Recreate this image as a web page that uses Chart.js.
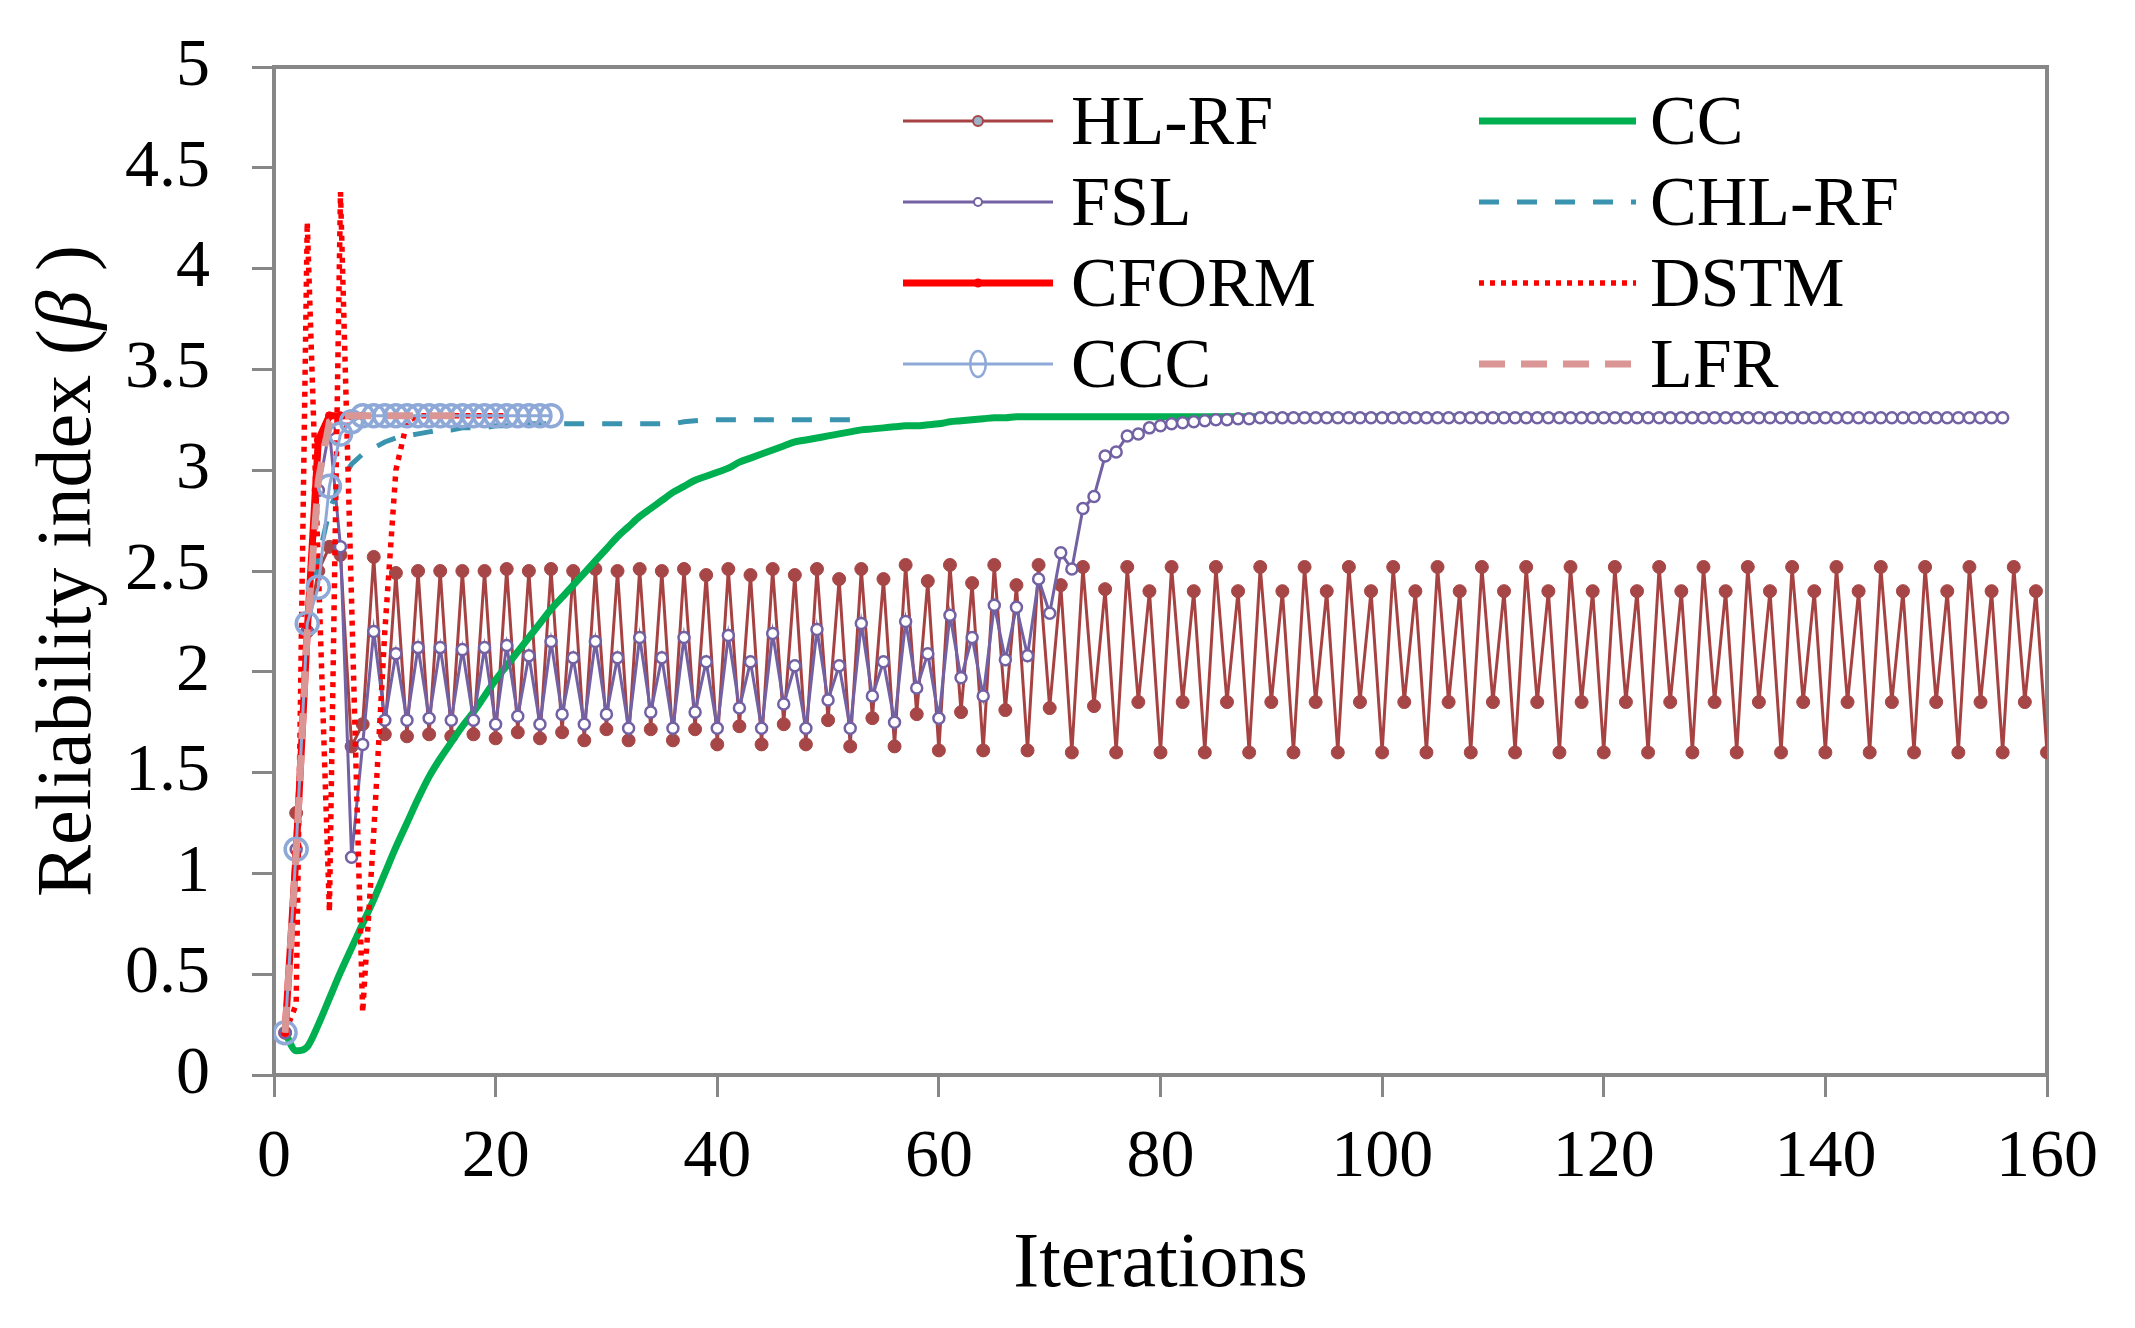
<!DOCTYPE html>
<html>
<head>
<meta charset="utf-8">
<title>Reliability index vs iterations</title>
<script src="https://cdn.jsdelivr.net/npm/chart.js@4.4.1/dist/chart.umd.min.js"></script>
<style>
  html, body { margin: 0; padding: 0; background: #fff; }
  #wrap { width: 2135px; height: 1328px; }
</style>
</head>
<body>
<div id="wrap"><canvas id="betaChart"></canvas></div>
<script>
// every series starts at iteration 1
const hlrf = [
  0.21, 1.30, 2.20, 2.50, 2.62, 2.58, 1.63, 1.74, 2.57, 1.69,
  2.49, 1.68, 2.50, 1.69, 2.50, 1.68, 2.50, 1.69, 2.50, 1.67,
  2.51, 1.70, 2.50, 1.67, 2.51, 1.70, 2.50, 1.66, 2.51, 1.715,
  2.50, 1.66, 2.51, 1.715, 2.50, 1.66, 2.51, 1.715, 2.48, 1.64,
  2.51, 1.73, 2.48, 1.64, 2.51, 1.74, 2.48, 1.64, 2.51, 1.76,
  2.46, 1.63, 2.51, 1.77, 2.46, 1.63, 2.53, 1.79, 2.45, 1.61,
  2.53, 1.80, 2.44, 1.61, 2.53, 1.81, 2.43, 1.61, 2.53, 1.82,
  2.43, 1.60, 2.52, 1.83, 2.41, 1.60, 2.52, 1.85, 2.40,
  1.60, 2.52, 1.85, 2.40, 1.60, 2.52, 1.85, 2.40, 1.60, 2.52, 1.85, 2.40, 1.60, 2.52, 1.85, 2.40,
  1.60, 2.52, 1.85, 2.40, 1.60, 2.52, 1.85, 2.40, 1.60, 2.52, 1.85, 2.40, 1.60, 2.52, 1.85, 2.40,
  1.60, 2.52, 1.85, 2.40, 1.60, 2.52, 1.85, 2.40, 1.60, 2.52, 1.85, 2.40, 1.60, 2.52, 1.85, 2.40,
  1.60, 2.52, 1.85, 2.40, 1.60, 2.52, 1.85, 2.40, 1.60, 2.52, 1.85, 2.40, 1.60, 2.52, 1.85, 2.40,
  1.60, 2.52, 1.85, 2.40, 1.60, 2.52, 1.85, 2.40, 1.60, 2.52, 1.85, 2.40, 1.60, 2.52, 1.85, 2.40,
  1.60
];

const cc = [
  0.21, 0.12, 0.14, 0.25, 0.38, 0.51, 0.63, 0.75, 0.87, 1.00,
  1.13, 1.25, 1.37, 1.48, 1.57, 1.65, 1.73, 1.80, 1.88, 1.96,
  2.03, 2.10, 2.17, 2.24, 2.31, 2.37, 2.43, 2.49, 2.55, 2.61,
  2.67, 2.72, 2.77, 2.81, 2.85, 2.89, 2.92, 2.95, 2.97, 2.99,
  3.01, 3.04, 3.06, 3.08, 3.10, 3.12, 3.14, 3.15, 3.16, 3.17,
  3.18, 3.19, 3.20, 3.205, 3.21, 3.215, 3.22, 3.22, 3.225, 3.23,
  3.24, 3.245, 3.25, 3.255, 3.26, 3.26, 3.265, 3.265, 3.265, 3.265,
  3.265, 3.265, 3.265, 3.265, 3.265, 3.265, 3.265, 3.265, 3.265, 3.265,
  3.265, 3.265, 3.265, 3.265, 3.265, 3.265, 3.265, 3.265, 3.265, 3.265,
  3.265, 3.265, 3.265, 3.265, 3.265, 3.265, 3.265, 3.265, 3.265, 3.265,
  3.265, 3.265, 3.265, 3.265, 3.265, 3.265, 3.265, 3.265, 3.265, 3.265,
  3.265, 3.265, 3.265, 3.265, 3.265, 3.265, 3.265, 3.265, 3.265, 3.265,
  3.265, 3.265, 3.265, 3.265, 3.265, 3.265, 3.265, 3.265, 3.265, 3.265,
  3.265, 3.265, 3.265, 3.265, 3.265, 3.265, 3.265, 3.265, 3.265, 3.265
];

const fsl = [
  0.21, 1.12, 2.20, 2.90, 3.20, 2.62, 1.08, 1.64, 2.20, 1.76,
  2.09, 1.76, 2.12, 1.77, 2.12, 1.76, 2.11, 1.76, 2.12, 1.74,
  2.13, 1.78, 2.08, 1.74, 2.15, 1.79, 2.07, 1.74, 2.15, 1.79,
  2.07, 1.72, 2.17, 1.80, 2.07, 1.72, 2.17, 1.80, 2.05, 1.72,
  2.18, 1.82, 2.05, 1.72, 2.19, 1.84, 2.03, 1.72, 2.21, 1.86,
  2.03, 1.72, 2.24, 1.88, 2.05, 1.75, 2.25, 1.92, 2.09, 1.77,
  2.28, 1.97, 2.17, 1.88, 2.33, 2.06, 2.32, 2.08, 2.46, 2.29,
  2.59, 2.51, 2.81, 2.87, 3.07, 3.09, 3.17, 3.18, 3.21, 3.22,
  3.23, 3.235, 3.24, 3.245, 3.25, 3.25, 3.255, 3.255, 3.26, 3.26,
  3.26, 3.26, 3.26, 3.26, 3.26, 3.26, 3.26, 3.26, 3.26, 3.26,
  3.26, 3.26, 3.26, 3.26, 3.26, 3.26, 3.26, 3.26, 3.26, 3.26,
  3.26, 3.26, 3.26, 3.26, 3.26, 3.26, 3.26, 3.26, 3.26, 3.26,
  3.26, 3.26, 3.26, 3.26, 3.26, 3.26, 3.26, 3.26, 3.26, 3.26,
  3.26, 3.26, 3.26, 3.26, 3.26, 3.26, 3.26, 3.26, 3.26, 3.26,
  3.26, 3.26, 3.26, 3.26, 3.26, 3.26, 3.26, 3.26, 3.26, 3.26,
  3.26, 3.26, 3.26, 3.26, 3.26, 3.26
];

const chlrf = [
  0.21, 1.12, 2.20, 2.56, 2.80, 2.94, 3.03, 3.08, 3.11, 3.14,
  3.16, 3.17, 3.18, 3.19, 3.20, 3.20, 3.21, 3.21, 3.21, 3.22,
  3.22, 3.22, 3.23, 3.23, 3.23, 3.23, 3.23, 3.23, 3.23, 3.23,
  3.23, 3.23, 3.23, 3.23, 3.23, 3.23, 3.24, 3.245, 3.25, 3.25,
  3.25, 3.25, 3.25, 3.25, 3.25, 3.25, 3.25, 3.25, 3.25, 3.25,
  3.25, 3.25, 3.25
];

const cform = [0.21, 1.10, 2.20, 3.15, 3.27, 3.27, 3.27, 3.27];

const dstm = [
  0.21, 0.35, 4.23, 2.52, 0.81, 4.38, 2.35, 0.31, 1.20, 2.20,
  3.00, 3.24, 3.27, 3.27, 3.27, 3.27, 3.27, 3.27, 3.27, 3.27,
  3.27
];

const ccc = [
  0.21, 1.12, 2.24, 2.42, 2.92, 3.18, 3.24, 3.27, 3.27, 3.27,
  3.27, 3.27, 3.27, 3.27, 3.27, 3.27, 3.27, 3.27, 3.27, 3.27,
  3.27, 3.27, 3.27, 3.27, 3.27
];

const lfr = [
  0.21, 1.10, 2.20, 2.95, 3.24, 3.27, 3.27, 3.27, 3.27, 3.27,
  3.27, 3.27, 3.27, 3.27, 3.27, 3.27, 3.27
];

const xTicksMax = 160;
const yTicksMax = 5;
const legendLeft = ['HL-RF', 'FSL', 'CFORM', 'CCC'];
const legendRight = ['CC', 'CHL-RF', 'DSTM', 'LFR'];

const serif = '"Liberation Serif", "Times New Roman", serif';
const frameGrey = '#878787';

const toPoints = (arr) => arr.map((v, i) => ({ x: i + 1, y: v }));

// Excel draws later series on top, Chart.js draws lower "order" on top
const datasets = [
  { label: 'HL-RF', data: toPoints(hlrf), borderColor: '#A64242', borderWidth: 3,
    pointRadius: 6.5, pointBackgroundColor: '#A64646', pointBorderColor: '#A64646', pointBorderWidth: 1, order: 8 },
  { label: 'CC', data: toPoints(cc), borderColor: '#00B050', borderWidth: 7,
    pointRadius: 0, cubicInterpolationMode: 'monotone', order: 7 },
  { label: 'FSL', data: toPoints(fsl), borderColor: '#7261A3', borderWidth: 3,
    pointRadius: 5.5, pointBackgroundColor: '#ffffff', pointBorderColor: '#7261A3', pointBorderWidth: 2.5, order: 6 },
  { label: 'CHL-RF', data: toPoints(chlrf), borderColor: '#3A94AF', borderWidth: 5,
    borderDash: [20, 18], pointRadius: 0, order: 5 },
  { label: 'CFORM', data: toPoints(cform), borderColor: '#FF0000', borderWidth: 7,
    pointRadius: 4, pointBackgroundColor: '#FF0000', pointBorderColor: '#FF0000', pointBorderWidth: 1, order: 4 },
  { label: 'DSTM', data: toPoints(dstm), borderColor: '#FF0000', borderWidth: 5.5,
    borderDash: [5, 6], pointRadius: 0, order: 3 },
  { label: 'CCC', data: toPoints(ccc), borderColor: '#8EA9D8', borderWidth: 3,
    pointRadius: 11, pointBackgroundColor: 'rgba(255,255,255,0)', pointBorderColor: '#8EA9D8', pointBorderWidth: 3.5, order: 2 },
  { label: 'LFR', data: toPoints(lfr), borderColor: '#D99694', borderWidth: 7,
    borderDash: [26, 16], pointRadius: 0, order: 1 },
];
datasets.forEach((d) => { d.fill = false; d.tension = d.tension || 0; });

// frame round the plot area (all four sides)
const framePlugin = {
  id: 'frame',
  beforeDatasetsDraw(chart) {
    const { ctx, chartArea: a } = chart;
    ctx.save();
    ctx.strokeStyle = frameGrey;
    ctx.lineWidth = 4;
    ctx.strokeRect(a.left, a.top, a.right - a.left, a.bottom - a.top);
    ctx.restore();
  }
};

// y title with an italic beta
const yTitlePlugin = {
  id: 'yTitle',
  afterDraw(chart) {
    const { ctx, chartArea: a } = chart;
    const parts = [
      { t: 'Reliability index (', f: '78px ' + serif },
      { t: 'β', f: 'italic 78px ' + serif },
      { t: ' )', f: '78px ' + serif },
    ];
    ctx.save();
    ctx.translate(90, (a.top + a.bottom) / 2);
    ctx.rotate(-Math.PI / 2);
    ctx.fillStyle = '#000';
    ctx.textBaseline = 'alphabetic';
    ctx.textAlign = 'left';
    let total = 0;
    parts.forEach((p) => { ctx.font = p.f; p.w = ctx.measureText(p.t).width; total += p.w; });
    let x = -total / 2;
    parts.forEach((p) => { ctx.font = p.f; ctx.fillText(p.t, x, 0); x += p.w; });
    ctx.restore();
  }
};

// two column legend inside the plot
const legendPlugin = {
  id: 'twoColLegend',
  afterDraw(chart) {
    const { ctx, chartArea: a } = chart;
    const cols = [
      { names: legendLeft, x0: a.left + 629, len: 150, tx: a.left + 797 },
      { names: legendRight, x0: a.left + 1205, len: 157, tx: a.left + 1376 },
    ];
    ctx.save();
    cols.forEach((col) => {
      col.names.forEach((name, i) => {
        const ds = chart.data.datasets.find((d) => d.label === name);
        const y = a.top + 54 + 81 * i;
        ctx.beginPath();
        ctx.setLineDash(ds.borderDash || []);
        ctx.lineWidth = ds.borderWidth;
        ctx.strokeStyle = ds.borderColor;
        ctx.moveTo(col.x0, y);
        ctx.lineTo(col.x0 + col.len, y);
        ctx.stroke();
        ctx.setLineDash([]);
        if (ds.pointRadius > 0) {
          const r = name === 'CCC' ? ds.pointRadius + 2 : Math.max(ds.pointRadius - 1.5, 3.5);
          ctx.beginPath();
          if (name === 'CCC') {
            ctx.ellipse(col.x0 + col.len * 0.5, y, r * 0.6, r, 0, 0, Math.PI * 2);
          } else {
            ctx.arc(col.x0 + col.len / 2, y, r, 0, Math.PI * 2);
          }
          ctx.fillStyle = name === 'HL-RF' ? '#9AB3C8' : ds.pointBackgroundColor;
          ctx.fill();
          ctx.lineWidth = name === 'CCC' ? 2.5 : 2;
          ctx.strokeStyle = ds.pointBorderColor;
          ctx.stroke();
        }
        ctx.fillStyle = '#000';
        ctx.font = '70px ' + serif;
        ctx.textBaseline = 'alphabetic';
        ctx.fillText(name, col.tx, y + 23);
      });
    });
    ctx.restore();
  }
};

new Chart(document.getElementById('betaChart'), {
  type: 'line',
  data: { datasets: datasets },
  options: {
    responsive: true,
    maintainAspectRatio: false,
    devicePixelRatio: 1,
    animation: false,
    layout: { padding: { top: 67, right: 88, left: 0, bottom: 0 } },
    plugins: {
      legend: { display: false },
      tooltip: { enabled: false },
    },
    scales: {
      x: {
        type: 'linear',
        min: 0,
        max: xTicksMax,
        afterFit: (s) => { s.height = 253; },
        border: { display: false },
        grid: { drawOnChartArea: false, drawTicks: true, tickLength: 22, color: frameGrey, lineWidth: 3 },
        ticks: { stepSize: 20, padding: 20, color: '#000', font: { family: serif, size: 68 },
          callback: (v) => String(v) },
        title: { display: true, text: 'Iterations', color: '#000',
          font: { family: serif, size: 78 }, padding: { top: 0, bottom: 16 } },
      },
      y: {
        min: 0,
        max: yTicksMax,
        afterFit: (s) => { s.width = 274; s.paddingTop = 0; s.paddingBottom = 0; },
        border: { display: false },
        grid: { drawOnChartArea: false, drawTicks: true, tickLength: 22, color: frameGrey, lineWidth: 3 },
        ticks: { stepSize: 0.5, padding: 42, color: '#000', font: { family: serif, size: 68, lineHeight: 0.7 },
          callback: (v) => String(v) },
      },
    },
  },
  plugins: [framePlugin, yTitlePlugin, legendPlugin],
});
</script>
</body>
</html>
